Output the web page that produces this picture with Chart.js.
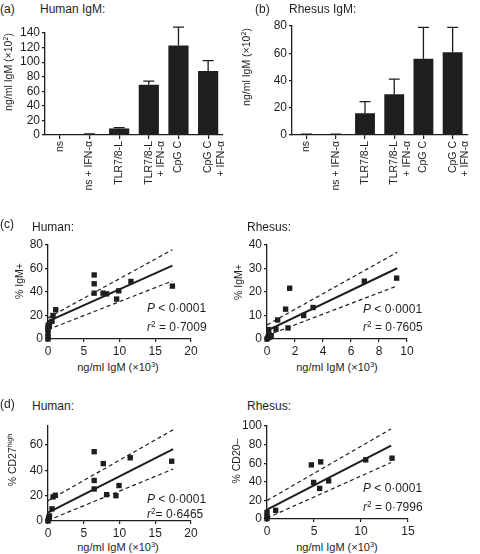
<!DOCTYPE html>
<html><head><meta charset="utf-8">
<script src="https://cdn.jsdelivr.net/npm/chart.js@4.4.0/dist/chart.umd.min.js"></script>
<style>
body{margin:0;background:#fff;width:480px;height:554px;position:relative;overflow:hidden;font-family:"Liberation Sans",Arial,Helvetica,sans-serif;color:#1e1e1e;}
canvas{position:absolute;}
.t{position:absolute;white-space:nowrap;font-size:12px;line-height:1;transform:translateY(-50%);}
.yt{position:absolute;white-space:nowrap;font-size:10.5px;line-height:1;transform:translate(-50%,-50%) rotate(-90deg);}
.xt{position:absolute;white-space:nowrap;font-size:11px;line-height:1;transform:translate(-50%,-50%);}
.st{position:absolute;white-space:nowrap;font-size:12px;line-height:1;transform:translateY(-50%);}
sup{font-size:0.68em;vertical-align:0.5em;line-height:0;}
</style></head>
<body>
<canvas id="ca"></canvas><canvas id="cb"></canvas>
<canvas id="cch"></canvas><canvas id="ccr"></canvas>
<canvas id="cdh"></canvas><canvas id="cdr"></canvas>

<div class="t" style="left:0;top:9px">(a)</div>
<div class="t" style="left:40px;top:9px">Human IgM:</div>
<div class="t" style="left:255px;top:9px">(b)</div>
<div class="t" style="left:289px;top:9px">Rhesus IgM:</div>
<div class="yt" style="left:8px;top:72px">ng/ml IgM (×10<sup>2</sup>)</div>
<div class="yt" style="left:246px;top:67px">ng/ml IgM (×10<sup>2</sup>)</div>

<div class="t" style="left:0;top:224px">(c)</div>
<div class="t" style="left:32px;top:227px">Human:</div>
<div class="t" style="left:247px;top:227px">Rhesus:</div>
<div class="yt" style="left:19px;top:281px">% IgM+</div>
<div class="yt" style="left:238px;top:282px">% IgM+</div>
<div class="xt" style="left:118px;top:367px">ng/ml IgM (×10<sup>3</sup>)</div>
<div class="xt" style="left:337px;top:367px">ng/ml IgM (×10<sup>3</sup>)</div>
<div class="st" style="left:147px;top:308px"><i>P</i> &lt; 0·0001</div>
<div class="st" style="left:147px;top:327px"><i>r</i><sup>2</sup> = 0·7009</div>
<div class="st" style="left:363px;top:309px"><i>P</i> &lt; 0·0001</div>
<div class="st" style="left:363px;top:327px"><i>r</i><sup>2</sup> = 0·7605</div>

<div class="t" style="left:0;top:404px">(d)</div>
<div class="t" style="left:32px;top:406px">Human:</div>
<div class="t" style="left:247px;top:406px">Rhesus:</div>
<div class="yt" style="left:12px;top:460px">% CD27<sup>high</sup></div>
<div class="yt" style="left:236px;top:461px">% CD20–</div>
<div class="xt" style="left:118px;top:547px">ng/ml IgM (×10<sup>3</sup>)</div>
<div class="xt" style="left:337px;top:547px">ng/ml IgM (×10<sup>3</sup>)</div>
<div class="st" style="left:147px;top:499px"><i>P</i> &lt; 0·0001</div>
<div class="st" style="left:147px;top:514px"><i>r</i><sup>2</sup>= 0·6465</div>
<div class="st" style="left:363px;top:488px"><i>P</i> &lt; 0·0001</div>
<div class="st" style="left:363px;top:507px"><i>r</i><sup>2</sup> = 0·7996</div>

<script>
// ---------- DATA ----------
const barCategories = ['ns', 'ns + IFN-α', 'TLR7/8-L', ['TLR7/8-L', '+ IFN-α'], 'CpG C', ['CpG C', '+ IFN-α']];
const humanIgM      = [0.3, 1, 9, 69, 123, 88];
const humanIgMErr   = [0, 0.6, 1.2, 5, 25, 14];
const rhesusIgM     = [0.5, 0.5, 15.9, 30, 56, 60.7];
const rhesusIgMErr  = [0.2, 0.1, 8.6, 11, 23, 18.3];
const humanBarYTicks  = [0, 20, 40, 60, 80, 100, 120, 140];
const rhesusBarYTicks = [0, 20, 40, 60, 80];

// (c) Human % IgM+
const cHumanX = [0, 0, 0, 0, 0, 0.05, 0.2, 0.56, 0.7, 1.08, 6.46, 6.46, 6.46, 7.7, 8.2, 9.6, 9.9, 11.6, 17.4];
const cHumanY = [0, 2, 5, 8, 10, 12, 10.7, 15, 20, 24.9, 54.5, 47, 39, 39, 38.4, 34, 41, 49, 45];
const cHumanFitX   = [0, 17.4];
const cHumanFit    = [15, 62.4];
const cHumanUpper  = [18, 76];
const cHumanLower  = [8, 49.4];
const cHumanXTicks = [0, 5, 10, 15, 20];
const cHumanYTicks = [0, 20, 40, 60, 80];

// (c) Rhesus % IgM+
const cRhesusX = [0, 0.05, 0.1, 0.15, 0.2, 0.3, 0.12, 0.64, 0.76, 1.33, 1.5, 1.62, 2.62, 3.29, 6.95, 9.26];
const cRhesusY = [0, 0.4, 1.1, 1.8, 0.8, 1.4, 4.0, 4.2, 8.1, 12.7, 4.7, 21.6, 10.0, 13.4, 24.6, 25.9];
const cRhesusFitX   = [0, 9.3];
const cRhesusFit    = [3.6, 30.1];
const cRhesusUpper  = [6, 36.9];
const cRhesusLower  = [1.5, 22.6];
const cRhesusXTicks = [0, 2, 4, 6, 8, 10];
const cRhesusYTicks = [0, 10, 20, 30, 40];

// (d) Human % CD27high
const dHumanX = [0, 0.05, 0.1, 0.15, 0.2, 0.56, 0.7, 1.03, 6.46, 6.46, 6.46, 7.73, 8.2, 9.5, 9.93, 11.5, 17.3];
const dHumanY = [0, 1, 2, 3, 4, 9.6, 19, 20.3, 54.7, 32, 25.3, 45.3, 20.8, 20, 28, 49.9, 47.2];
const dHumanFitX   = [0, 17.5];
const dHumanFit    = [6.7, 56.8];
const dHumanUpper  = [16, 72];
const dHumanLower  = [0.5, 41];
const dHumanXTicks = [0, 5, 10, 15, 20];
const dHumanYTicks = [0, 20, 40, 60];

// (d) Rhesus % CD20-
const dRhesusX = [0, 0, 0, 0.92, 4.72, 4.96, 5.6, 5.71, 6.56, 10.5, 13.3];
const dRhesusY = [0.4, 2.9, 7.1, 9.3, 58.2, 39.3, 32.9, 61.4, 41, 63.6, 65.4];
const dRhesusFitX   = [0, 13.2];
const dRhesusFit    = [10, 79];
const dRhesusUpper  = [20, 96.8];
const dRhesusLower  = [1, 60.7];
const dRhesusXTicks = [0, 5, 10, 15];
const dRhesusYTicks = [0, 20, 40, 60, 80, 100];

// ---------- CHARTS ----------
const INK = '#1e1e1e';
Chart.defaults.font.family = '"Liberation Sans", Arial, Helvetica, sans-serif';
Chart.defaults.font.size = 12;
Chart.defaults.color = INK;
Chart.defaults.animation = false;

const errorBarPlugin = {
  id: 'errbars',
  afterDatasetsDraw(chart, args, opts) {
    const errs = opts.errors; if (!errs) return;
    const meta = chart.getDatasetMeta(0), y = chart.scales.y, ctx = chart.ctx;
    ctx.save(); ctx.strokeStyle = INK; ctx.lineWidth = 1.3;
    meta.data.forEach((bar, i) => {
      const v = chart.data.datasets[0].data[i], e = errs[i];
      if (!e) return;
      const top = y.getPixelForValue(v + e), base = y.getPixelForValue(v);
      ctx.beginPath();
      ctx.moveTo(bar.x, base); ctx.lineTo(bar.x, top);
      ctx.moveTo(bar.x - 5.5, top); ctx.lineTo(bar.x + 5.5, top);
      ctx.stroke();
    });
    ctx.restore();
  }
};

function fixedTicks(arr) { return s => { s.ticks = arr.map(v => ({ value: v })); }; }

function makeChart(id, g, config) {
  const cv = document.getElementById(id);
  cv.width = g.W; cv.height = g.H;
  cv.style.left = g.L + 'px'; cv.style.top = g.T + 'px';
  const [l, t, r, b] = g.area;
  config.options.layout = { padding: { top: t - g.T, right: g.L + g.W - r, left: 0, bottom: 0 } };
  config.options.scales.x.afterFit = s => { s.height = g.T + g.H - b; };
  config.options.scales.y.afterFit = s => { s.width = l - g.L; };
  return new Chart(cv, config);
}

function barConfig(values, errs, yMax, yTicks) {
  return {
    type: 'bar',
    data: { labels: barCategories, datasets: [{ data: values, backgroundColor: INK, barPercentage: 0.68, categoryPercentage: 1 }] },
    plugins: [errorBarPlugin],
    options: {
      responsive: false, events: [],
      plugins: { legend: { display: false }, tooltip: { enabled: false }, errbars: { errors: errs } },
      scales: {
        x: { offset: true, grid: { drawOnChartArea: false, offset: false, tickLength: 4, color: INK, lineWidth: 1.2 },
             border: { color: INK, width: 1.3 },
             ticks: { maxRotation: 90, minRotation: 90, autoSkip: false, padding: 2, font: { size: 10.5 } } },
        y: { min: 0, max: yMax, afterBuildTicks: fixedTicks(yTicks),
             grid: { drawOnChartArea: false, tickLength: 3, color: INK, lineWidth: 1.2 },
             border: { color: INK, width: 1.3 }, ticks: { autoSkip: false, padding: 2, font: { size: 12 } } }
      }
    }
  };
}

function seg(xx, yy) { return [{ x: xx[0], y: yy[0] }, { x: xx[1], y: yy[1] }]; }

function scatterConfig(xs, ys, fitX, fit, up, lo, xTicks, yTicks, yMax) {
  const pts = xs.map((x, i) => ({ x, y: ys[i] }));
  return {
    type: 'scatter',
    data: { datasets: [
      { data: seg(fitX, up), showLine: true, borderColor: INK, borderWidth: 1.2, borderDash: [4, 3], pointRadius: 0 },
      { data: seg(fitX, lo), showLine: true, borderColor: INK, borderWidth: 1.2, borderDash: [4, 3], pointRadius: 0 },
      { data: seg(fitX, fit), showLine: true, borderColor: INK, borderWidth: 2, pointRadius: 0 },
      { data: pts, pointStyle: 'rect', pointRadius: 3.8, backgroundColor: INK, borderWidth: 0, clip: false }
    ] },
    options: {
      responsive: false, events: [],
      plugins: { legend: { display: false }, tooltip: { enabled: false } },
      scales: {
        x: { type: 'linear', min: xTicks[0], max: xTicks[xTicks.length - 1], afterBuildTicks: fixedTicks(xTicks),
             grid: { drawOnChartArea: false, tickLength: 3, color: INK, lineWidth: 1.2 },
             border: { color: INK, width: 1.3 }, ticks: { autoSkip: false, padding: 2, font: { size: 12 } } },
        y: { type: 'linear', min: 0, max: yMax, afterBuildTicks: fixedTicks(yTicks),
             grid: { drawOnChartArea: false, tickLength: 3, color: INK, lineWidth: 1.2 },
             border: { color: INK, width: 1.3 }, ticks: { autoSkip: false, padding: 2, font: { size: 12 } } }
      }
    }
  };
}

makeChart('ca', { L: 0, T: 20, W: 236, H: 180, area: [45, 33, 228, 135] }, barConfig(humanIgM, humanIgMErr, 140, humanBarYTicks));
makeChart('cb', { L: 244, T: 14, W: 236, H: 186, area: [292, 26, 478, 135] }, barConfig(rhesusIgM, rhesusIgMErr, 80, rhesusBarYTicks));

makeChart('cch', { L: 0, T: 232, W: 205, H: 125, area: [48, 245, 191, 339] },
  scatterConfig(cHumanX, cHumanY, cHumanFitX, cHumanFit, cHumanUpper, cHumanLower, cHumanXTicks, cHumanYTicks, 80));
makeChart('ccr', { L: 225, T: 232, W: 200, H: 125, area: [267, 245, 407, 339] },
  scatterConfig(cRhesusX, cRhesusY, cRhesusFitX, cRhesusFit, cRhesusUpper, cRhesusLower, cRhesusXTicks, cRhesusYTicks, 40));
makeChart('cdh', { L: 0, T: 413, W: 205, H: 126, area: [48, 426, 191, 521] },
  scatterConfig(dHumanX, dHumanY, dHumanFitX, dHumanFit, dHumanUpper, dHumanLower, dHumanXTicks, dHumanYTicks, 75));
makeChart('cdr', { L: 225, T: 413, W: 200, H: 125, area: [267, 426, 408, 519] },
  scatterConfig(dRhesusX, dRhesusY, dRhesusFitX, dRhesusFit, dRhesusUpper, dRhesusLower, dRhesusXTicks, dRhesusYTicks, 100));
</script>
</body></html>
